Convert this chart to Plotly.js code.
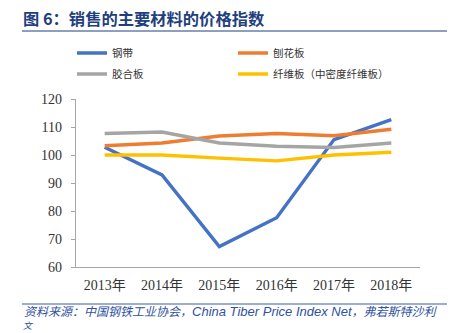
<!DOCTYPE html>
<html>
<head>
<meta charset="utf-8">
<script src="https://cdn.plot.ly/plotly-3.0.1.min.js"></script>
<style>html,body{margin:0;padding:0;background:#fff;}#chart{width:457px;height:333px;}</style>
</head>
<body>
<div id="chart"></div>
<script>
const years = ["2013年", "2014年", "2015年", "2016年", "2017年", "2018年"];
const steel = [102.8, 92.9, 67.3, 77.6, 105.5, 112.6];
const particleBoard = [103.3, 104.3, 106.8, 107.7, 106.9, 109.2];
const plywood = [107.7, 108.2, 104.3, 103.1, 102.7, 104.3];
const mdf = [100.0, 100.0, 98.9, 97.9, 100.0, 101.0];
const seriesNames = ["钢带", "刨花板", "胶合板", "纤维板（中密度纤维板）"];
const seriesColors = ["#4472C4", "#ED7D31", "#A5A5A5", "#FFC000"];
const seriesData = [steel, particleBoard, plywood, mdf];
const legendSlots = ["legend", "legend2", "legend", "legend2"];

const traces = seriesData.map((vals, i) => ({
  type: "scatter",
  mode: "lines",
  x: years,
  y: vals,
  name: seriesNames[i],
  legend: legendSlots[i],
  legendgroup: "g" + i,
  line: {color: seriesColors[i], width: 3.4},
  hoverinfo: "skip"
}));

const W = 457, H = 333, L = 76, R = 37, T = 99, B = 66;
const pw = W - L - R, ph = H - T - B;
const px = x => (x - L) / pw;
const py = y => (H - B - y) / ph;

const legendBase = {
  orientation: "v",
  xanchor: "left", yanchor: "top",
  font: {family: "Noto Sans CJK SC", size: 10.5, color: "#333"},
  bgcolor: "rgba(0,0,0,0)", tracegroupgap: 2, borderwidth: 0
};

const layout = {
  width: W, height: H,
  margin: {l: L, r: R, t: T, b: B},
  paper_bgcolor: "#fff", plot_bgcolor: "#fff",
  showlegend: true,
  legend: Object.assign({}, legendBase, {x: px(72), y: py(38.5)}),
  legend2: Object.assign({}, legendBase, {x: px(233), y: py(38.5)}),
  xaxis: {
    type: "category", range: [-0.5, 5.5],
    showgrid: false, zeroline: false,
    showline: true, linecolor: "#A6A6A6", linewidth: 1.2,
    ticks: "", ticklen: 0, ticklabelstandoff: 5,
    tickfont: {family: "Liberation Serif, Noto Sans CJK SC", size: 14, color: "#333"},
    fixedrange: true
  },
  yaxis: {
    range: [60, 120], dtick: 10,
    showgrid: false, zeroline: false,
    showline: true, linecolor: "#A6A6A6", linewidth: 1.2,
    ticks: "outside", ticklen: 4, tickcolor: "#A6A6A6", ticklabelstandoff: 6,
    tickfont: {family: "Liberation Serif", size: 14, color: "#333"},
    fixedrange: true
  },
  shapes: [
    {type: "line", xref: "paper", yref: "paper", x0: px(22), x1: px(447), y0: py(31), y1: py(31), line: {color: "#1F3F7F", width: 1}},
    {type: "line", xref: "paper", yref: "paper", x0: px(22), x1: px(447), y0: py(304), y1: py(304), line: {color: "#3B5BA5", width: 1.2}}
  ],
  annotations: [
    {xref: "paper", yref: "paper", x: px(21), y: py(18), xanchor: "left", yanchor: "middle", showarrow: false,
     text: "<b>图 6：销售的主要材料的价格指数</b>",
     font: {family: "Noto Sans CJK SC", size: 16.3, color: "#1F3F7F"}},
    {xref: "paper", yref: "paper", x: px(22), y: py(310), xanchor: "left", yanchor: "middle", showarrow: false,
     text: "<i>资料来源：中国钢铁工业协会，<span style='font-family:Liberation Sans;font-size:13px'>China Tiber Price Index Net</span>，弗若斯特沙利</i>",
     font: {family: "Noto Sans CJK SC", size: 12, color: "#2F52A0"}},
    {xref: "paper", yref: "paper", x: px(22), y: py(333), xanchor: "left", yanchor: "bottom", showarrow: false,
     text: "<i>文</i>", borderpad: 0,
     font: {family: "Noto Sans CJK SC", size: 9, color: "#2F52A0"}}
  ]
};

Plotly.newPlot("chart", traces, layout, {displayModeBar: false, staticPlot: true});
</script>
</body>
</html>
